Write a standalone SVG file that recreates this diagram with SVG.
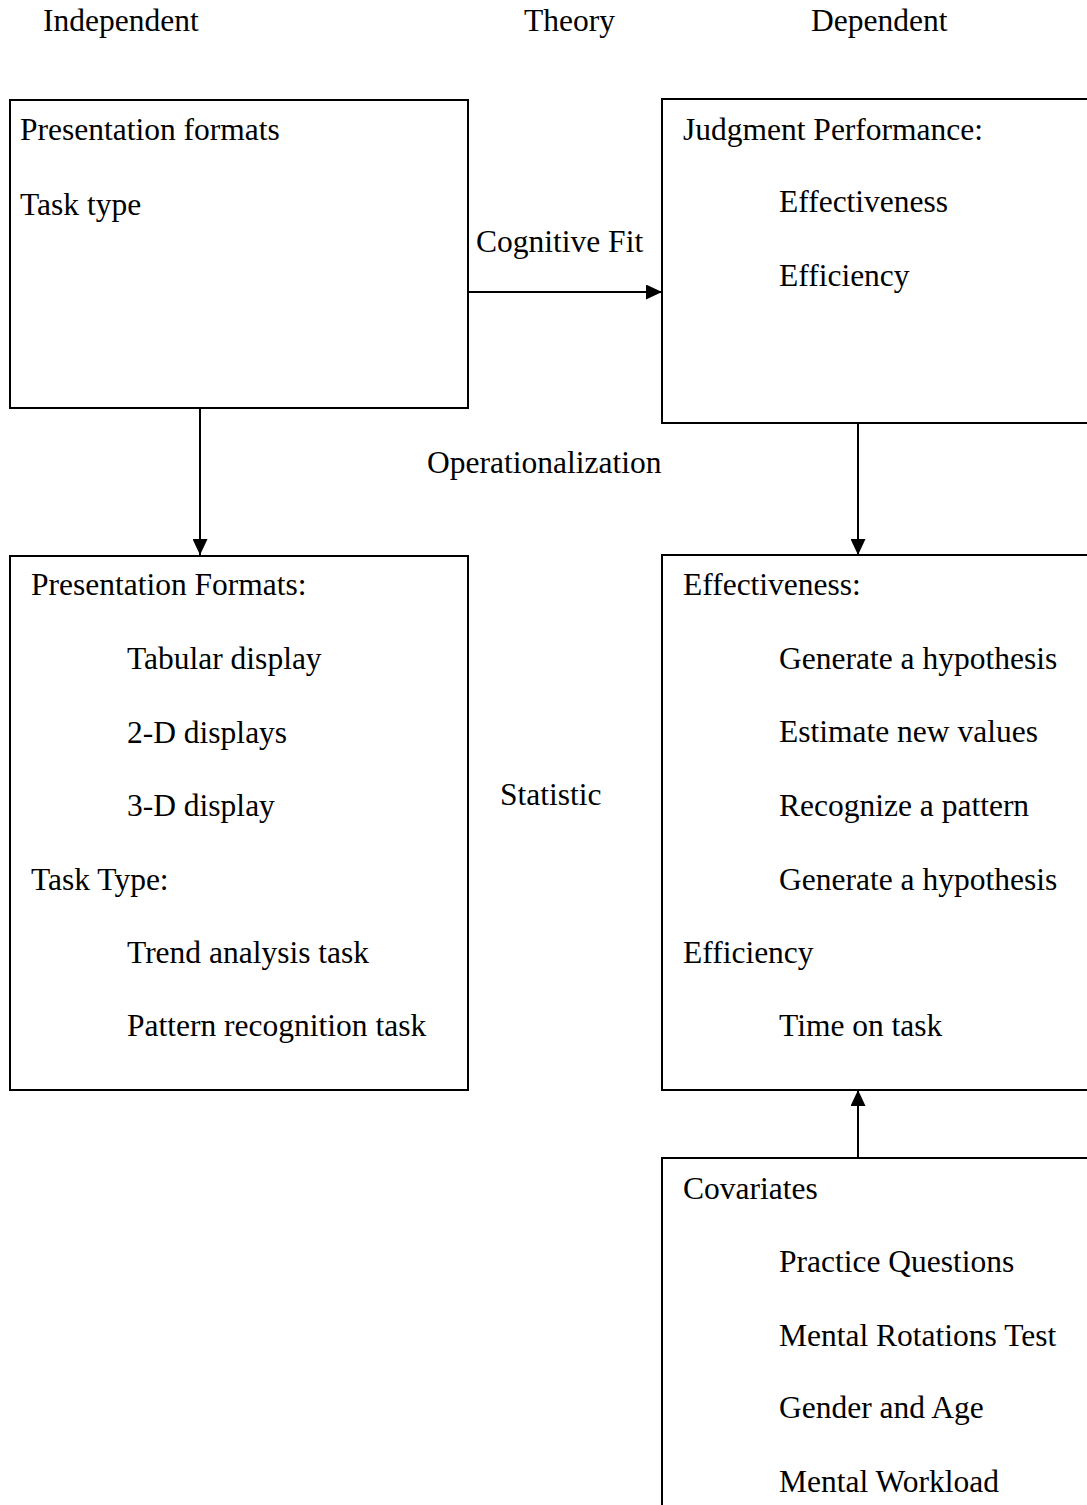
<svg xmlns="http://www.w3.org/2000/svg" width="1087" height="1505" viewBox="0 0 1087 1505">
<style>
text{font-family:"Liberation Serif","Times New Roman",serif;font-size:31.5px;fill:#000}
.box{fill:#fff;stroke:#000;stroke-width:2}
.con{stroke:#000;stroke-width:2;fill:none}
</style>
<defs>
<marker id="ah" viewBox="0 0 16 15" refX="16" refY="7.5" markerWidth="16" markerHeight="15" markerUnits="userSpaceOnUse" orient="auto">
<path d="M0,0 L16,7.5 L0,15 Z" fill="#000"/>
</marker>
</defs>
<rect width="1087" height="1505" fill="#fff"/>
<g id="headers">
<text x="43" y="31">Independent</text>
<text x="524" y="31">Theory</text>
<text x="811" y="31">Dependent</text>
</g>
<g id="node-independent">
<rect class="box" x="10" y="100" width="458" height="308"/>
<text x="20" y="140">Presentation formats</text>
<text x="20" y="215">Task type</text>
</g>
<g id="node-judgment">
<rect class="box" x="662" y="99" width="440" height="324"/>
<text x="683" y="140">Judgment Performance:</text>
<text x="779" y="212">Effectiveness</text>
<text x="779" y="286">Efficiency</text>
</g>
<g id="node-formats">
<rect class="box" x="10" y="556" width="458" height="534"/>
<text x="31" y="595">Presentation Formats:</text>
<text x="127" y="669">Tabular display</text>
<text x="127" y="743">2-D displays</text>
<text x="127" y="816">3-D display</text>
<text x="31" y="890">Task Type:</text>
<text x="127" y="963">Trend analysis task</text>
<text x="127" y="1036">Pattern recognition task</text>
</g>
<g id="node-measures">
<rect class="box" x="662" y="555" width="440" height="535"/>
<text x="683" y="595">Effectiveness:</text>
<text x="779" y="669">Generate a hypothesis</text>
<text x="779" y="742">Estimate new values</text>
<text x="779" y="816">Recognize a pattern</text>
<text x="779" y="890">Generate a hypothesis</text>
<text x="683" y="963">Efficiency</text>
<text x="779" y="1036">Time on task</text>
</g>
<g id="node-covariates">
<rect class="box" x="662" y="1158" width="440" height="360"/>
<text x="683" y="1199">Covariates</text>
<text x="779" y="1272">Practice Questions</text>
<text x="779" y="1346">Mental Rotations Test</text>
<text x="779" y="1418">Gender and Age</text>
<text x="779" y="1492">Mental Workload</text>
</g>
<g id="connectors">
<line class="con" x1="468" y1="292" x2="662" y2="292" marker-end="url(#ah)"/>
<line class="con" x1="200" y1="408" x2="200" y2="555" marker-end="url(#ah)"/>
<line class="con" x1="858" y1="423" x2="858" y2="555" marker-end="url(#ah)"/>
<line class="con" x1="858" y1="1158" x2="858" y2="1090" marker-end="url(#ah)"/>
</g>
<g id="connector-labels">
<text x="476" y="252">Cognitive Fit</text>
<text x="427" y="473">Operationalization</text>
<text x="500" y="805">Statistic</text>
</g>
</svg>
